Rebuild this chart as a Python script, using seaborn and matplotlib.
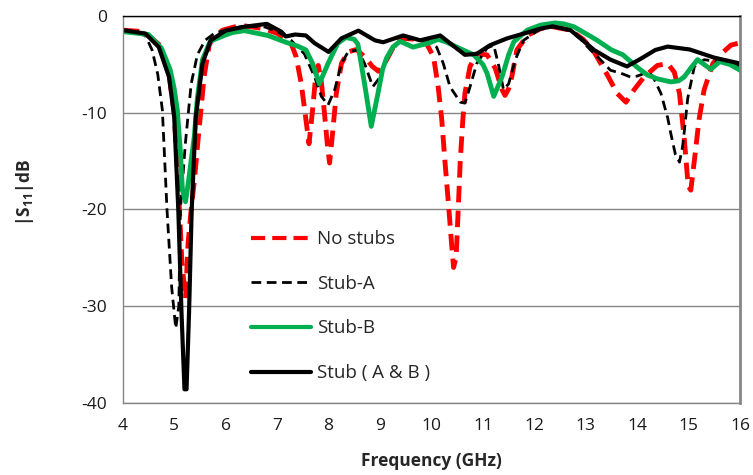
import numpy as np
import pandas as pd
import matplotlib
matplotlib.use('Agg')
import matplotlib.pyplot as plt
import seaborn as sns

# No stubs (red dashed)
freq_none = [4.0, 4.4, 4.7, 4.9, 5.0, 5.08, 5.15, 5.22, 5.27, 5.33, 5.40, 5.46, 5.52, 5.58,
             5.68, 5.80, 5.97, 6.29, 6.75, 7.01, 7.27, 7.37, 7.47, 7.56, 7.62, 7.69, 7.76,
             7.80, 7.86, 7.92, 7.98, 8.02, 8.08, 8.15, 8.25, 8.38, 8.54, 8.72, 8.85, 8.97,
             9.08, 9.19, 9.30, 9.45, 9.71, 9.90, 10.04, 10.13, 10.20, 10.26, 10.33, 10.39,
             10.43, 10.48, 10.52, 10.56, 10.61, 10.65, 10.75, 10.88, 11.08, 11.24, 11.37,
             11.43, 11.50, 11.56, 11.66, 11.86, 12.12, 12.31, 12.70, 12.95, 13.16, 13.42,
             13.61, 13.78, 13.94, 14.13, 14.39, 14.59, 14.72, 14.82, 14.91, 14.99, 15.04,
             15.11, 15.20, 15.30, 15.47, 15.63, 15.82, 16.0]
s11_none = [-1.45, -1.6, -2.9, -6.0, -10.0, -17.5, -25.5, -29.2, -23.5, -20.0, -16.6, -13.0,
            -9.7, -6.3, -3.0, -1.8, -1.4, -0.95, -1.3, -1.8, -2.8, -4.2, -7.0, -10.7, -13.2,
            -9.7, -5.6, -5.1, -6.8, -10.0, -13.5, -15.2, -12.0, -8.0, -4.9, -3.7, -3.45,
            -4.3, -5.2, -5.7, -5.0, -3.9, -2.8, -2.3, -2.4, -2.8, -4.2, -7.3, -10.7, -14.9,
            -19.4, -23.5, -26.0, -24.9, -20.0, -14.9, -10.7, -8.0, -5.2, -3.9, -4.0, -5.4,
            -7.6, -8.2, -7.5, -6.3, -3.5, -2.0, -1.3, -1.05, -1.45, -2.4, -3.7, -6.1, -8.0,
            -8.9, -7.6, -6.3, -5.1, -4.9, -5.8, -8.0, -12.5, -17.6, -18.0, -14.9, -10.7,
            -7.6, -4.9, -3.9, -3.0, -2.75]

# Stub-A (black dashed)
freq_a = [4.0, 4.44, 4.57, 4.68, 4.77, 4.86, 4.95, 5.03, 5.09, 5.12, 5.22, 5.33, 5.45, 5.60,
          5.80, 5.97, 6.36, 6.75, 7.01, 7.27, 7.53, 7.73, 7.86, 7.99, 8.12, 8.25, 8.38, 8.57,
          8.70, 8.86, 8.96, 9.09, 9.19, 9.39, 9.64, 9.90, 10.10, 10.23, 10.36, 10.56, 10.65,
          10.75, 10.88, 11.08, 11.21, 11.31, 11.40, 11.50, 11.63, 11.79, 12.12, 12.38, 12.70,
          12.90, 13.09, 13.30, 13.48, 13.68, 13.87, 14.0, 14.20, 14.30, 14.46, 14.59, 14.65,
          14.74, 14.82, 14.88, 14.91, 14.98, 15.11, 15.30, 15.56, 16.0]
s11_a = [-1.45, -2.0, -3.5, -6.0, -9.7, -20.0, -28.0, -32.3, -30.0, -20.0, -13.0, -7.0, -4.0,
         -2.5, -1.7, -1.5, -1.0, -1.1, -1.6, -2.5, -3.9, -6.3, -8.3, -9.2, -7.6, -4.9, -3.7,
         -3.5, -4.9, -7.3, -6.6, -4.9, -3.9, -2.5, -2.3, -2.5, -3.2, -4.9, -7.3, -8.9, -9.0,
         -7.3, -4.9, -3.3, -3.0, -5.2, -7.6, -7.0, -4.5, -2.5, -1.3, -1.1, -1.5, -2.4, -3.5,
         -4.6, -5.6, -5.9, -6.3, -6.2, -5.8, -6.2, -8.0, -10.5, -12.1, -14.3, -15.1, -13.5,
         -12.1, -8.5, -5.2, -4.5, -4.7, -5.2]

# Stub-B (green solid)
freq_b = [4.0, 4.5, 4.75, 4.92, 5.0, 5.06, 5.12, 5.16, 5.22, 5.28, 5.34, 5.39, 5.45, 5.55,
          5.70, 5.97, 6.13, 6.36, 6.82, 7.17, 7.40, 7.56, 7.69, 7.82, 7.90, 7.99, 8.08, 8.18,
          8.34, 8.50, 8.57, 8.70, 8.83, 8.96, 9.05, 9.13, 9.25, 9.39, 9.64, 9.94, 10.13,
          10.30, 10.49, 10.82, 11.0, 11.08, 11.21, 11.37, 11.50, 11.60, 11.86, 12.12, 12.40,
          12.57, 12.77, 13.03, 13.22, 13.50, 13.72, 14.0, 14.20, 14.40, 14.65, 14.80, 14.91,
          15.05, 15.17, 15.30, 15.43, 15.60, 15.80, 16.0]
s11_b = [-1.6, -1.9, -3.3, -5.5, -7.5, -9.7, -14.0, -18.0, -19.2, -17.0, -14.5, -12.5, -8.5,
         -4.5, -2.6, -2.0, -1.7, -1.5, -2.0, -2.7, -3.1, -3.5, -4.9, -7.0, -6.0, -4.9, -3.9,
         -2.8, -2.2, -2.4, -2.9, -7.0, -11.4, -8.0, -5.5, -4.3, -3.2, -2.6, -3.2, -2.8, -2.4,
         -2.7, -3.2, -4.0, -5.0, -5.9, -8.3, -6.3, -4.0, -2.65, -1.45, -0.93, -0.7, -0.8,
         -1.1, -1.9, -2.5, -3.5, -4.0, -5.3, -6.1, -6.5, -6.8, -6.7, -6.3, -5.3, -4.5, -5.0,
         -5.5, -4.7, -5.0, -5.6]

# Stub (A & B) (black solid)
freq_ab = [4.0, 4.44, 4.70, 4.90, 5.0, 5.08, 5.14, 5.20, 5.24, 5.29, 5.34, 5.42, 5.55, 5.71,
           6.0, 6.36, 6.80, 7.08, 7.17, 7.35, 7.56, 7.73, 8.0, 8.25, 8.58, 8.90, 9.06, 9.45,
           9.78, 10.17, 10.36, 10.65, 10.88, 11.14, 11.47, 11.73, 12.12, 12.35, 12.70, 12.90,
           13.16, 13.48, 13.80, 14.07, 14.35, 14.59, 15.02, 15.50, 16.0]
s11_ab = [-1.45, -1.8, -3.2, -6.3, -10.4, -20.0, -30.4, -38.6, -38.6, -30.4, -20.0, -10.4,
          -4.9, -2.5, -1.5, -1.1, -0.8, -1.6, -2.1, -1.9, -2.0, -2.8, -3.7, -2.3, -1.5, -2.5,
          -2.7, -2.0, -2.5, -2.0, -2.8, -4.0, -3.9, -3.0, -2.3, -1.9, -1.3, -1.05, -1.45,
          -2.3, -3.5, -4.5, -5.2, -4.4, -3.5, -3.15, -3.45, -4.3, -4.9]

labels = ['No stubs', 'Stub-A', 'Stub-B', 'Stub ( A & B )']

sns.set_style('white')
plt.rcParams['font.family'] = ['Open Sans', 'DejaVu Sans']
plt.rcParams['mathtext.fontset'] = 'custom'
plt.rcParams['mathtext.rm'] = 'Open Sans'
plt.rcParams['mathtext.bf'] = 'Open Sans:bold'

fig, ax = plt.subplots(figsize=(7.53, 4.75), dpi=100)
fig.subplots_adjust(left=0.163, right=0.983, top=0.966, bottom=0.152)

series = [
    (freq_none, s11_none, labels[0], dict(color='#ff0000', lw=3.5, dashes=(3.4, 1.7))),
    (freq_a, s11_a, labels[1], dict(color='black', lw=2.0, dashes=(3.5, 2.0))),
    (freq_b, s11_b, labels[2], dict(color='#00b050', lw=3.5)),
    (freq_ab, s11_ab, labels[3], dict(color='black', lw=3.0)),
]
for fx, fy, lab, style in series:
    df = pd.DataFrame({'freq': fx, 's11': fy})
    sns.lineplot(data=df, x='freq', y='s11', ax=ax, label=lab, estimator=None,
                 sort=False, solid_capstyle='round', dash_capstyle='butt', **style)

ax.set_xlim(4, 16)
ax.set_ylim(-40, 0)
ax.set_xticks(range(4, 17))
ax.set_yticks([-40, -30, -20, -10, 0])
ax.set_yticklabels(['-40', '-30', '-20', '-10', '0'])
ax.tick_params(axis='both', labelsize=12.5, colors='#868686', labelcolor='#1a1a1a',
               direction='out', length=6, width=1, pad=5)
ax.grid(axis='y', color='#868686', lw=1)
ax.grid(axis='x', visible=False)

for side in ['left', 'bottom']:
    ax.spines[side].set_color('#868686')
    ax.spines[side].set_linewidth(1)
ax.spines['right'].set_color('#868686')
ax.spines['right'].set_linewidth(2)
ax.spines['top'].set_color('black')
ax.spines['top'].set_linewidth(1)

ax.set_xlabel('Frequency (GHz)', fontsize=12.5, fontweight='bold')
ax.xaxis.set_label_coords(0.5, -0.128)
ax.set_ylabel(r'|S$_{\mathbf{11}}$|dB', fontsize=12.5, fontweight='bold')
ax.yaxis.set_label_coords(-0.14, 0.545)

leg = ax.legend(loc='upper left', bbox_to_anchor=(0.18, 0.49), frameon=False, fontsize=13.5,
                handlelength=3.2, labelspacing=1.42, handletextpad=0.35)
for h in leg.get_lines():
    h.set_linewidth(min(h.get_linewidth(), 3.0))

fig.savefig('out.png', dpi=100)
